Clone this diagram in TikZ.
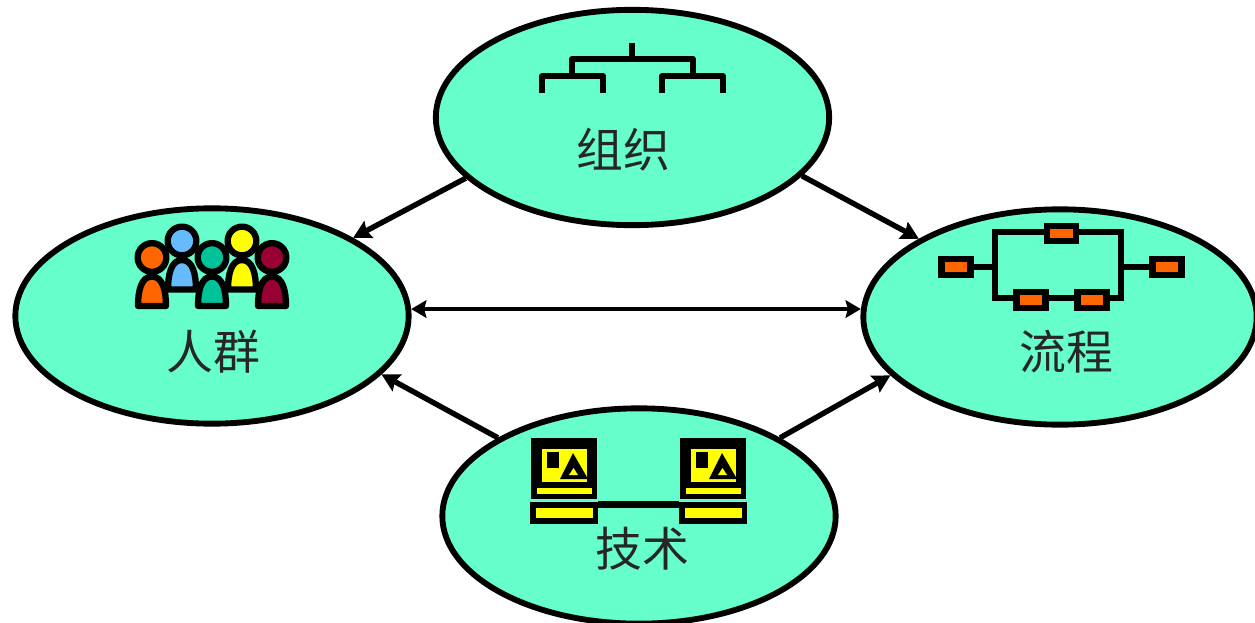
\documentclass[tikz,border=0pt]{standalone}
\usepackage{fontspec}
\newfontfamily\cjk{Noto Sans CJK SC}
\usetikzlibrary{shapes.geometric,arrows.meta}
\definecolor{aqua}{HTML}{66FFCC}
\definecolor{porange}{HTML}{FF6600}
\definecolor{pblue}{HTML}{66BBFF}
\definecolor{pteal}{HTML}{00C299}
\definecolor{pyellow}{HTML}{FFFF00}
\definecolor{pred}{HTML}{990033}
\tikzset{
  x=0.03cm,y=-0.03cm,
  hub/.style={ellipse,draw=black,fill=aqua,line width=5pt,minimum width=11.8cm,minimum height=6.46cm,inner sep=0pt},
  lbl/.style={font=\cjk\fontsize{40}{44}\selectfont,text=black!85,inner sep=0pt},
  link/.style={line width=4.6pt,draw=black,-{Stealth[length=15pt,width=16pt,inset=2pt]}},
  both/.style={line width=3.8pt,draw=black,{Stealth[length=13pt,width=15pt,inset=2pt]}-{Stealth[length=13pt,width=15pt,inset=2pt]}},
  wire/.style={line width=5.2pt,draw=black},
  stepbox/.style={rectangle,draw=black,fill=porange,line width=5.4pt,minimum width=0.87cm,minimum height=0.46cm,inner sep=0pt},
  persona/.style={draw=black,line width=5.4pt,line join=round},
}
\newcommand{\persona}[3]{%
  \filldraw[persona,fill=#3] (#1-14,#2+48.5) .. controls (#1-14,#2+34) and (#1-11,#2+19) .. (#1,#2+19)
     .. controls (#1+11,#2+19) and (#1+14,#2+34) .. (#1+14,#2+48.5) -- cycle;
  \filldraw[persona,fill=#3] (#1,#2) circle[radius=0.43cm];
}
\newcommand{\terminal}[1]{%
  \begin{scope}[xshift=#1*0.03cm]
    \fill[black] (531,438) rectangle (597,499);
    \fill[pyellow] (542,449) rectangle (587,482);
    \fill[black] (547,452) rectangle (559,468);
    \fill[black] (573,453) -- (588,479) -- (560,479) -- cycle;
    \fill[pyellow] (573.5,468) -- (578,475) -- (569,475) -- cycle;
    \fill[pyellow] (537,488) rectangle (592,494);
    \fill[black] (530,502) rectangle (598,524);
    \fill[pyellow] (536,508) rectangle (593,518);
  \end{scope}
}
\begin{document}
\begin{tikzpicture}
\useasboundingbox (0,0) rectangle (1255,623);
\clip (0,0) rectangle (1255,623);
\fill[white] (0,0) rectangle (1255,623);
% hubs
\node[hub] (org) at (632.5,117.5) {};
\node[hub] (people) at (212,316) {};
\node[hub] (proc) at (1060,317) {};
\node[hub] (tech) at (639,516) {};
% connectors
\draw[link] (org.200) -- (people.29);
\draw[link] (org.-19) -- (proc.151);
\draw[link] (tech.151) -- (people.-19.5);
\draw[link] (tech.29) -- (proc.199.5);
\draw[both] (people.2) -- (people.2 -| proc.178);
% organisation icon
\draw[wire,line cap=butt] (632,43) -- (632,59);
\draw[wire,line join=round] (572,76) -- (572,59) -- (693,59) -- (693,76);
\draw[wire,line join=round] (542,93) -- (542,76) -- (603,76) -- (603,93);
\draw[wire,line join=round] (662,93) -- (662,76) -- (723,76) -- (723,93);
% people icon
\persona{182}{241}{pblue}
\persona{242}{241}{pyellow}
\persona{152}{257.5}{porange}
\persona{212}{257.5}{pteal}
\persona{272}{257.5}{pred}
% process icon
\coordinate (nw) at (995,232);
\coordinate (ne) at (1121,232);
\coordinate (sw) at (995,298);
\coordinate (se) at (1121,298);
\coordinate (wm) at (995,267);
\coordinate (em) at (1121,267);
\draw[wire,line join=miter] (sw) -- (nw) -- (ne) -- (se) -- cycle;
\node[stepbox] (s1) at (956,267) {};
\node[stepbox] (s2) at (1061.5,233.5) {};
\node[stepbox] (s3) at (1167,267) {};
\node[stepbox] (s4) at (1031,300) {};
\node[stepbox] (s5) at (1092,300) {};
\draw[wire] (s1) -- (wm);
\draw[wire] (em) -- (s3);
% technology icon
\terminal{0}
\terminal{149}
\draw[wire] (598,504.5) -- (679,504.5);
% labels
\node[lbl] (lorg) at (623,150) {组织};
\node[lbl] (lpeople) at (213,352) {人群};
\node[lbl] (lproc) at (1066,352) {流程};
\node[lbl] (ltech) at (642,549) {技术};
\end{tikzpicture}
\end{document}
